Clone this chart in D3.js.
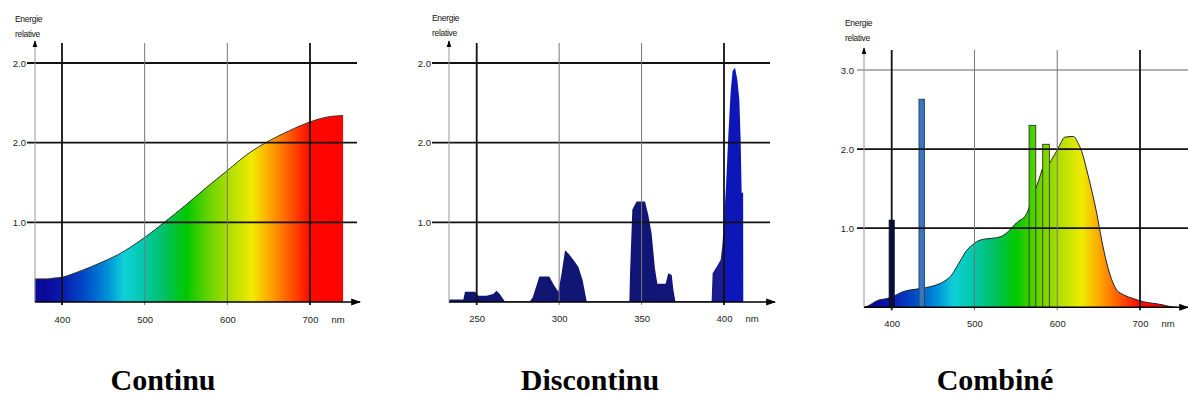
<!DOCTYPE html>
<html><head><meta charset="utf-8">
<script src="https://cdn.jsdelivr.net/npm/d3@7"></script>
<style>
html,body{margin:0;padding:0;background:#fff;}
svg{display:block;}
.tick text{font-family:"Liberation Sans",Arial,sans-serif;font-size:9.5px;fill:#222;}
</style></head>
<body>
<svg id="c" width="1188" height="397"></svg>
<script>
// ---------- DATA ----------
const yTickValues = [1, 2, 3];
const yTickLabelsA = ["1.0", "2.0", "2.0"];
const yTickLabelsC = ["1.0", "2.0", "3.0"];
const contXTicks = [400, 500, 600, 700];
const discXTicks = [250, 300, 350, 400];
const combXTicks = [400, 500, 600, 700];
const axisTitle = ["Energie", "relative"];
const unitLabel = "nm";
const captions = ["Continu", "Discontinu", "Combiné"];

const contWl  = [367,383,390,400,412,425,446,467,500,525,550,575,600,625,650,675,700,720,740];
const contVal = [0.29,0.29,0.30,0.31,0.35,0.40,0.49,0.59,0.81,1.01,1.22,1.44,1.65,1.86,2.02,2.15,2.26,2.32,2.34];

const discWl  = [233.4,241.9,242.9,249,251,256,260,262,264,267,
                 282.3,284,285.4,288,294,296.9,299.5,301.5,303.6,305.6,308.6,311.7,314.3,316.7,
                 342.6,343,344.4,347,352.1,354.1,356.1,358.1,359.6,364.6,366.2,368.3,369.3,370.5,
                 392.5,393.1,395.5,398,399,400,401.2,402.6,404,405.2,406.7,408.1,409.3,410.1,410.7,411.6,411.7];
const discVal = [0.03,0.03,0.13,0.13,0.08,0.08,0.10,0.14,0.10,0.01,
                 0.01,0.06,0.15,0.32,0.32,0.21,0.13,0.36,0.65,0.61,0.53,0.44,0.27,0.01,
                 0.01,0.36,1.16,1.26,1.26,1.09,0.86,0.42,0.23,0.23,0.36,0.34,0.15,0.01,
                 0.01,0.36,0.44,0.53,0.71,1.01,1.45,2.08,2.63,2.90,2.94,2.79,2.54,2.04,1.37,1.37,0.0];

const combWl  = [367,373.8,379.9,383.9,394,400,406,412,418,430,442,450,458,466.5,472.5,478.5,484.6,490.6,
                 496.7,502.7,510.8,518.8,526.9,535,543,549,555,561,565,570,574,579,582.4,586,590.5,595,
                 599,603,609,619.5,625.5,629.6,635.6,641.6,647.7,653.7,659.8,665.8,671.8,680,692,704,716,728,736,745];
const combVal = [0,0.03,0.07,0.09,0.11,0.13,0.16,0.19,0.21,0.23,0.25,0.27,0.30,0.35,0.41,0.51,0.62,0.72,
                 0.78,0.83,0.86,0.87,0.88,0.91,0.98,1.05,1.10,1.15,1.23,1.40,1.50,1.65,1.76,1.80,1.82,1.90,
                 1.97,2.05,2.15,2.16,2.07,1.97,1.74,1.48,1.19,0.85,0.56,0.35,0.22,0.16,0.11,0.07,0.05,0.03,0.01,0];

const spikeStart = [397, 433, 566, 582.4];
const spikeEnd   = [403, 439.5, 574, 590.5];
const spikeVal   = [1.1, 2.63, 2.3, 2.06];

// spectrum colour stops (wavelength -> colour)
const specWl  = [380,400,430,455,475,500,525,550,580,605,630,652,678,700,750];
const specCol = ['#0a0a9a','#0a1ab0','#0050c8','#0090d8','#10d0d8','#00c8a8','#00c060','#00c800',
                 '#70d400','#b4e000','#f0ea00','#ffa400','#ff5000','#ff0800','#ff0000'];

// ---------- DRAW ----------
const svg = d3.select("#c");
const defs = svg.append("defs");
defs.append("marker").attr("id","arr").attr("viewBox","0 0 10 10").attr("refX",9).attr("refY",5)
  .attr("markerWidth",7).attr("markerHeight",7).attr("orient","auto-start-reverse")
  .append("path").attr("d","M0,1.5L10,5L0,8.5z").attr("fill","#000");

function specGradient(id, x) {
  const g = defs.append("linearGradient").attr("id", id).attr("gradientUnits","userSpaceOnUse")
    .attr("x1", x(specWl[0])).attr("x2", x(specWl[specWl.length-1])).attr("y1",0).attr("y2",0);
  const span = specWl[specWl.length-1]-specWl[0];
  specWl.forEach((w,i)=>g.append("stop").attr("offset",(w-specWl[0])/span).attr("stop-color",specCol[i]));
}

function frame(p) {
  const g = svg.append("g");
  const x = p.x, y = p.y;
  yTickValues.forEach((v,i)=>{
    g.append("line").attr("x1",p.tickLeft).attr("x2",p.gridRight).attr("y1",y(v)).attr("y2",y(v))
      .attr("stroke", p.lightTop && i===2 ? "#666" : "#111").attr("stroke-width", p.lightTop && i===2 ? 1.2 : 1.8);
  });
  p.xTicks.forEach((t,i)=>{
    const heavy = (i===0 || i===p.xTicks.length-1);
    g.append("line").attr("x1",x(t)).attr("x2",x(t)).attr("y1",p.gridTop).attr("y2",y(0)+3)
      .attr("stroke", heavy ? "#111" : "#777").attr("stroke-width", heavy ? 1.8 : 1);
  });
  return g;
}

function axes(p, g) {
  const x = p.x, y = p.y;
  g.append("line").attr("x1",p.axisX).attr("x2",p.axisX).attr("y1",y(0)).attr("y2",p.gridTop - 1)
    .attr("stroke","#999").attr("stroke-width",1);
  g.append("line").attr("x1",p.axisX).attr("x2",p.axisX).attr("y1",p.gridTop+3).attr("y2",p.gridTop - 2)
    .attr("stroke","#000").attr("stroke-width",1).attr("marker-end","url(#arr)");
  g.append("line").attr("x1",p.axisX).attr("x2",p.axisRight).attr("y1",y(0)).attr("y2",y(0))
    .attr("stroke","#000").attr("stroke-width",1.4).attr("marker-end","url(#arr)");
  const ya = d3.axisLeft(y).tickValues(yTickValues).tickFormat((d,i)=>p.yLabels[i]).tickSize(0).tickPadding(0);
  const yg = g.append("g").attr("transform",`translate(${p.yLabelX},0)`).call(ya);
  yg.select(".domain").remove();
  yg.selectAll("text").attr("dy","0.35em");
  const xa = d3.axisBottom(x).tickValues(p.xTicks).tickFormat(d=>d).tickSize(0).tickPadding(0);
  const xg = g.append("g").attr("transform",`translate(0,${p.xLabelY})`).call(xa);
  xg.select(".domain").remove();
  xg.selectAll("text").attr("dy","0");
  g.append("text").attr("x", x(p.xTicks[p.xTicks.length-1]) + 28).attr("y", p.xLabelY)
    .attr("text-anchor","middle").attr("font-family","Liberation Sans,Arial,sans-serif").attr("font-size",9.5)
    .attr("fill","#222").text(unitLabel);
  axisTitle.forEach((t,i)=>g.append("text").attr("x",p.titleX).attr("y",p.titleY + i*15)
    .attr("font-family","Liberation Sans,Arial,sans-serif").attr("font-size",8.5).attr("fill","#111")
    .attr("letter-spacing","-0.3").text(t));
}

// ---- Panel 1: Continu ----
{
  const x = d3.scaleLinear().domain([400,700]).range([62,310]);
  const y = d3.scaleLinear().domain([0,3]).range([302,63]);
  const p = {x,y,xTicks:contXTicks,yLabels:yTickLabelsA,tickLeft:27,gridRight:357,gridTop:43,
             axisX:35,axisRight:360,yLabelX:26,xLabelY:323,titleX:15,titleY:22};
  specGradient("g1", x);
  const g = svg.append("g");
  const data = contWl.map((w,i)=>[w,contVal[i]]);
  g.append("path").datum(data).attr("fill","url(#g1)")
    .attr("d", d3.area().x(d=>x(d[0])).y0(y(0)).y1(d=>y(d[1])).curve(d3.curveMonotoneX));
  g.append("path").datum(data).attr("fill","none").attr("stroke","#333").attr("stroke-width",1)
    .attr("d", d3.line().x(d=>x(d[0])).y(d=>y(d[1])).curve(d3.curveMonotoneX));
  const f = frame(p);
  axes(p, f);
}

// ---- Panel 2: Discontinu ----
{
  const x = d3.scaleLinear().domain([250,400]).range([476.7,724]);
  const y = d3.scaleLinear().domain([0,3]).range([302,63]);
  const p = {x,y,xTicks:discXTicks,yLabels:yTickLabelsA,tickLeft:432,gridRight:770,gridTop:43,
             axisX:449,axisRight:775,yLabelX:431,xLabelY:322,titleX:432,titleY:21};
  const gr = defs.append("linearGradient").attr("id","g2").attr("gradientUnits","userSpaceOnUse")
    .attr("x1",x(230)).attr("x2",x(430)).attr("y1",0).attr("y2",0);
  const o = (x(400)-x(230))/(x(430)-x(230));
  gr.append("stop").attr("offset",0).attr("stop-color","#0f156e");
  gr.append("stop").attr("offset",(x(380)-x(230))/(x(430)-x(230))).attr("stop-color","#111678");
  gr.append("stop").attr("offset",o).attr("stop-color","#1a1c96");
  gr.append("stop").attr("offset",o).attr("stop-color","#0d16b6");
  gr.append("stop").attr("offset",1).attr("stop-color","#0d16b6");
  const g = svg.append("g");
  const data = discWl.map((w,i)=>[w,discVal[i]]);
  g.append("path").datum(data).attr("fill","url(#g2)")
    .attr("d", d3.area().x(d=>x(d[0])).y0(y(0)).y1(d=>y(d[1])));
  const f = frame(p);
  axes(p, f);
}

// ---- Panel 3: Combiné ----
{
  const x = d3.scaleLinear().domain([400,700]).range([891.7,1140]);
  const y = d3.scaleLinear().domain([0,3]).range([307.3,70]);
  const p = {x,y,xTicks:combXTicks,yLabels:yTickLabelsC,tickLeft:857,gridRight:1188,gridTop:50,
             axisX:864,axisRight:1188,yLabelX:854,xLabelY:327,titleX:845,titleY:26,lightTop:true};
  specGradient("g3", x);
  const g = svg.append("g");
  const data = combWl.map((w,i)=>[w,combVal[i]]);
  g.append("path").datum(data).attr("fill","url(#g3)")
    .attr("d", d3.area().x(d=>x(d[0])).y0(y(0)).y1(d=>y(d[1])).curve(d3.curveMonotoneX));
  g.append("path").datum(data).attr("fill","none").attr("stroke","#222").attr("stroke-width",1)
    .attr("d", d3.line().x(d=>x(d[0])).y(d=>y(d[1])).curve(d3.curveMonotoneX));
  const spikeFill = ["#0a0c5c","#3a76bc","url(#g3)","url(#g3)"];
  const spikeStroke = ["#050830","#23466e","#2d4a1a","#3a4a1a"];
  spikeStart.forEach((s,i)=>{
    g.append("rect").attr("x",x(s)).attr("width",x(spikeEnd[i])-x(s))
      .attr("y",y(spikeVal[i])).attr("height",y(0)-y(spikeVal[i]))
      .attr("fill",spikeFill[i]).attr("stroke",spikeStroke[i]).attr("stroke-width",1);
  });
  const f = frame(p);
  axes(p, f);
}

// ---- captions ----
const capX = [163, 590, 995];
captions.forEach((c,i)=>svg.append("text").attr("x",capX[i]).attr("y",390).attr("text-anchor","middle")
  .attr("font-family","Liberation Serif,Times New Roman,serif").attr("font-weight","bold")
  .attr("font-size",30).attr("fill","#000").text(c));
</script>
</body></html>
